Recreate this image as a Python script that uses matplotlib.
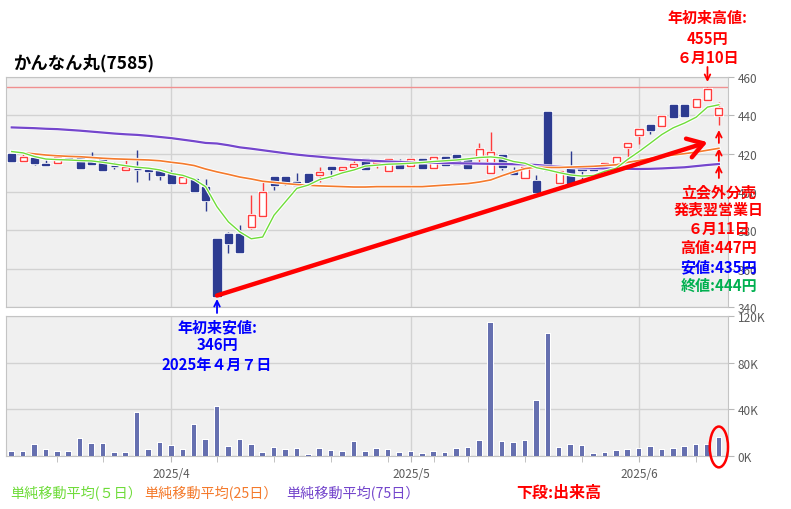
import numpy as np
import pandas as pd
import matplotlib
matplotlib.use("Agg")
import matplotlib.pyplot as plt
import matplotlib.patheffects as pe
import matplotlib.transforms as mtransforms
from matplotlib.patches import Ellipse

plt.rcParams["font.family"] = ["Noto Sans CJK JP", "DejaVu Sans"]

# ------------------ DATA ------------------
holidays = ["2025-03-20", "2025-04-29", "2025-05-05", "2025-05-06"]
dates = pd.bdate_range("2025-03-11", "2025-06-11", freq="C", holidays=holidays)

open_ = [420, 416, 417.5, 414.5, 415, 417.5, 418.5, 416.5, 417.2, 413.6,
         411.5, 412, 411.2, 411.5, 409.7, 404.8, 406.6, 402.8, 375.7, 378.3,
         378.3, 381.8, 387.6, 407.6, 407.6, 405.4, 409.4, 408.9, 413.2, 411.5,
         412.9, 417.2, 415, 411.1, 415, 413.6, 417.2, 412.7, 418.5, 419.3,
         417.2, 417.9, 409.7, 419.3, 411, 407.1, 405.9, 441.5, 404.9, 412.9,
         412.9, 413.6, 413.2, 414.6, 423.4, 429.8, 435, 434.2, 445.2, 445.2,
         444.3, 447.8, 440]
high = [420.3, 420.5, 418, 417.5, 419, 418.5, 419, 421, 417.5, 415.7,
        417.4, 422, 411.5, 412, 411.5, 408.5, 407, 406.6, 376, 379.2,
        382.7, 398.4, 406.2, 408, 408.5, 409.7, 409.7, 413.2, 413.5, 413.5,
        417.1, 417.2, 416.6, 417.4, 417.2, 417.6, 417.4, 418.7, 418.7, 419.5,
        418.5, 425.4, 431.5, 419.5, 413.2, 413.5, 408.9, 441.5, 411.5, 421.6,
        413, 414, 415.8, 418.7, 426.3, 433, 435.2, 440.2, 445.4, 445.4,
        448.7, 455, 447]
low = [415.7, 415.7, 414, 414, 415, 416.5, 412.7, 414.8, 411, 412,
       411.5, 405.4, 406.2, 406.2, 404.5, 404.8, 400.5, 390, 346, 368,
       368.7, 380.6, 387.6, 401, 403.6, 403.3, 405, 405.4, 407.5, 411.5,
       412.4, 411.8, 412.4, 411.1, 412.7, 413.6, 412.7, 412.7, 414, 414,
       412.7, 415, 409.2, 411.5, 409.2, 406.8, 400.1, 411, 404, 404.5,
       406.6, 411.5, 413.2, 414.6, 418.5, 425.1, 430.3, 434.2, 438.9, 439.8,
       444.3, 447.8, 435]
close = [416, 418.5, 415, 414.3, 418.5, 417.3, 412.7, 414.8, 411.5, 413.4,
         413.2, 411.8, 411, 409, 404.5, 407.6, 400.5, 395.8, 346, 373.6,
         368.7, 387.9, 400.1, 403.6, 404.8, 403.6, 405, 410.6, 411.8, 413.2,
         414.6, 411.8, 416.4, 417.2, 412.7, 417.4, 412.7, 418.5, 414.1, 414.6,
         412.7, 422.5, 420.7, 413.2, 409.2, 413.2, 400.1, 411.5, 411, 404.9,
         411.5, 411.5, 415.3, 418.5, 425.4, 432.8, 432.1, 439.8, 438.9, 439.8,
         448.5, 454, 444]

# volume in thousands of shares
volume_k = [3.4, 3.4, 9.5, 5.2, 3.4, 3.4, 14.6, 10.3, 10.3, 2.6,
            2.6, 37, 5.2, 11.2, 8.6, 5.2, 26.7, 13.8, 42.2, 7.7,
            13.8, 9.5, 2.6, 6.9, 5.2, 6.0, 0.9, 6.0, 4.3, 3.4,
            12.0, 3.4, 6.0, 5.2, 2.3, 3.4, 1.7, 3.4, 2.3, 5.7,
            6.9, 12.6, 113.6, 12, 11.2, 12.6, 47.3, 104.2, 6.9, 9.5,
            8.6, 1.7, 2.6, 4.3, 5.2, 6.0, 7.7, 5.2, 6.0, 7.7,
            9.5, 9.5, 15.5]

ma5 = [421.1, 420.4, 418.5, 417.2, 416.9, 416.7, 416.4, 416.2, 415.5, 414.6,
       413.7, 412.9, 412.4, 411.5, 409.7, 408.7, 406.6, 402.8, 392.3, 384.4,
       379.2, 375.6, 376.5, 387.9, 394.9, 401.9, 403.6, 406.5, 408, 410,
       411.5, 413.5, 414, 414.5, 414.7, 415, 415.4, 415.9, 416.3, 416.7,
       417.3, 418, 418.3, 417.7, 415.9, 415, 412.7, 411.5, 410.1, 408.9,
       408.3, 408.6, 410.8, 412.4, 417, 421.1, 425.5, 430, 433.5, 436,
       439, 444.3, 445.5]
ma25 = [421.1, 420.5, 419.9, 419.3, 418.9, 418.6, 418.4, 418, 417.6, 417.3,
        417.1, 416.9, 416.7, 416.3, 415.5, 414.8, 413.8, 412, 410.5, 409.2,
        407.8, 406.8, 405.6, 405, 404.4, 403.9, 403.5, 403.2, 403, 402.8,
        402.6, 402.6, 402.8, 402.8, 402.8, 402.8, 402.8, 403.2, 403.6, 404,
        404.4, 405.2, 406.3, 408.5, 410.5, 412.2, 413, 412.8, 412.8, 413,
        413.2, 413.4, 413.8, 414.2, 415.5, 416.4, 417.5, 418.5, 419.3, 420,
        420.8, 421.8, 422.8]
ma75 = [433.7, 433.5, 433.3, 433, 432.8, 432.4, 432, 431.5, 431, 430.5,
        430.1, 429.8, 429.3, 428.7, 428.1, 427.3, 426.5, 425.6, 425.3, 424.4,
        423.3, 422.6, 421.8, 421, 420.2, 419.5, 418.9, 418.4, 417.8, 417.3,
        416.8, 416.5, 416.2, 415.9, 415.7, 415.5, 415.3, 415.2, 415.1, 415,
        414.9, 414.8, 414.7, 414.6, 414.5, 414.4, 414.1, 413.6, 413.2, 412.8,
        412.5, 412.4, 412.3, 412.2, 412.1, 412, 412.1, 412.3, 412.6, 412.9,
        413.5, 414.1, 414.6]

year_high = 455
trend_end_price = 426

# ------------------ STYLE ------------------
W, H = 791, 510
UP_EDGE = "#ff3c3c"
DOWN_FACE = "#2d3b91"
VOL_COLOR = "#6670b0"
C_MA5, C_MA25, C_MA75 = "#6fdc3a", "#f47a2c", "#7446cc"
PANEL_BG = "#f0f0f0"
GRID = "#d2d2d2"


def fx(px):
    return px / W


def fy(py):
    return 1 - py / H


fig = plt.figure(figsize=(W / 100, H / 100), dpi=100)
ax = fig.add_axes([fx(6), fy(308), fx(728) - fx(6), fy(78) - fy(308)])
axv = fig.add_axes([fx(6), fy(457), fx(728) - fx(6), fy(317) - fy(457)])
ax.set_zorder(axv.get_zorder() + 1)   # annotations of the price panel go over the volume panel

x = np.arange(len(dates))
o, h, l, c = map(np.array, (open_, high, low, close))
up = c > o

month_idx = [i for i in range(1, len(dates)) if dates[i].month != dates[i - 1].month]
week_idx = [i for i in range(1, len(dates))
            if dates[i].isocalendar()[1] != dates[i - 1].isocalendar()[1]]
week_idx = [i for i in week_idx if min(abs(i - m) for m in month_idx) >= 2]

halo = [pe.withStroke(linewidth=2.5, foreground="white")]

# ------------------ PRICE PANEL ------------------
for a in (ax, axv):
    a.set_facecolor(PANEL_BG)
    a.set_axisbelow(True)
    a.grid(True, color=GRID, lw=1)
    a.set_xlim(-0.5, 62.8)
    for s in a.spines.values():
        s.set_color("#c4c4c4")
    a.yaxis.tick_right()
    a.tick_params(axis="y", color="#b8b8b8", labelcolor="#5a5a5a",
                  labelsize=8.5, length=4, pad=3)

ax.set_ylim(340, 460)
ax.set_yticks(np.arange(340, 461, 20))
ax.set_xticks(month_idx)
ax.tick_params(axis="x", length=0, labelbottom=False)

ax.vlines(x, l, h, color=np.where(up, UP_EDGE, DOWN_FACE), lw=1, zorder=3)
body = ax.bar(x, np.maximum(np.abs(c - o), 0.4), bottom=np.minimum(o, c), width=0.62,
              color=np.where(up, "white", DOWN_FACE),
              edgecolor=np.where(up, UP_EDGE, DOWN_FACE), lw=1, zorder=4)
for b in body:
    b.set_path_effects([pe.withStroke(linewidth=2.2, foreground="white")])

ax.axhline(year_high, color="#f09090", lw=1, zorder=2)
ax.plot(x, ma75, color=C_MA75, lw=1.6, zorder=5, path_effects=halo)
ax.plot(x, ma25, color=C_MA25, lw=1.2, zorder=5, path_effects=halo)
ax.plot(x, ma5, color=C_MA5, lw=1.0, zorder=5, path_effects=halo)

# trend arrow from the year low to the latest days
i_low = int(np.argmin(l))
i_high = int(np.argmax(h))
ax.annotate("", xy=(i_high, trend_end_price), xytext=(i_low, l[i_low]),
            arrowprops=dict(arrowstyle="->, head_length=0.55, head_width=0.35",
                            color="#ff0000", lw=3.2, mutation_scale=20,
                            shrinkA=0, shrinkB=0), zorder=7)

# ------------------ VOLUME PANEL ------------------
axv.bar(x, np.array(volume_k) * 1000, width=0.4, color=VOL_COLOR, zorder=3,
        path_effects=[pe.withStroke(linewidth=1.5, foreground="white")])
axv.set_ylim(0, 120000)
axv.set_yticks([0, 40000, 80000, 120000])
axv.set_yticklabels([f"{v // 1000}K" for v in (0, 40000, 80000, 120000)])
axv.set_xticks(month_idx)
axv.set_xticklabels([f"{dates[i].year}/{dates[i].month}" for i in month_idx])
axv.set_xticks(week_idx, minor=True)
axv.tick_params(axis="x", which="both", color="#b8b8b8", labelcolor="#5a5a5a",
                labelsize=8.5, length=4, pad=4)

last = len(x) - 1
axv.add_patch(Ellipse((last, volume_k[last] * 1000 / 2), width=1.6, height=35000,
                      fill=False, edgecolor="#ff0000", lw=1.8, clip_on=False, zorder=6))

# ------------------ ANNOTATIONS ------------------
tr = mtransforms.blended_transform_factory(ax.transData, fig.transFigure)
bold = dict(ha="center", va="center", fontsize=10.8, fontweight="bold", transform=tr)


def arrow(xi, y_tail, y_tip, color):
    ax.annotate("", xy=(xi, fy(y_tip)), xytext=(xi, fy(y_tail)), xycoords=tr,
                textcoords=tr, annotation_clip=False,
                arrowprops=dict(arrowstyle="->", color=color, lw=1.3,
                                shrinkA=0, shrinkB=0))


for txt, py in [("年初来高値:", 18), ("455円", 39), ("６月10日", 58)]:
    ax.text(i_high, fy(py), txt, color="#ff0000", **bold)
arrow(i_high, 68, 83, "#ff0000")

for txt, py in [("年初来安値:", 327), ("346円", 345), ("2025年４月７日", 365)]:
    ax.text(i_low, fy(py), txt, color="#0000ff", **bold)
arrow(i_low, 314, 300, "#0000ff")

for tail, tip in [(144, 131), (162, 149), (179, 166)]:
    arrow(last, tail, tip, "#ff0000")
for txt, py, col in [("立会外分売", 192, "#ff0000"), ("発表翌営業日", 210, "#ff0000"),
                     ("６月11日", 229, "#ff0000"), ("高値:447円", 248, "#ff0000"),
                     ("安値:435円", 267, "#0000ff"), ("終値:444円", 286, "#00b050")]:
    ax.text(last, fy(py), txt, color=col, **bold)

fig.text(fx(13), fy(63), "かんなん丸(7585)", fontsize=12.5, fontweight="bold", va="center")

for px, txt, col in [(10, "単純移動平均(５日）", C_MA5), (144, "単純移動平均(25日）", C_MA25),
                     (286, "単純移動平均(75日）", C_MA75)]:
    fig.text(fx(px), fy(493), txt, color=col, fontsize=10.2, va="center")
fig.text(fx(516), fy(493), "下段:出来高", color="#ff0000", fontsize=11.5,
         fontweight="bold", va="center")

fig.savefig("out.png", dpi=100)
